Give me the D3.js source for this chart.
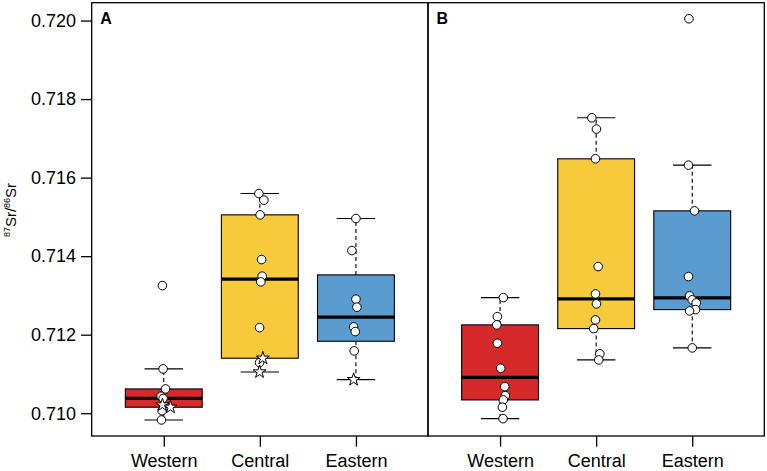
<!DOCTYPE html>
<html>
<head>
<meta charset="utf-8">
<script src="https://cdn.jsdelivr.net/npm/d3@7"></script>
<style>
  body { margin: 0; background: #fff; }
  svg { font-family: "Liberation Sans", Arial, sans-serif; }
</style>
</head>
<body>
<div id="wrapper"></div>
<script>
// categories and panels
const groups = ["Western", "Central", "Eastern"];
const panels = ["A", "B"];
const yTicks = [0.710, 0.712, 0.714, 0.716, 0.718, 0.720];

// panel A: circle values, star values, horizontal jitter (category units)
const aWestern = [0.713251, 0.711129, 0.710619, 0.710433, 0.710377, 0.710066, 0.709829];
const aWesternJit = [-0.014, -0.007, 0.018, -0.028, -0.007, -0.018, -0.024];
const aWesternStars = [0.710211, 0.710153];
const aWesternStarJit = [-0.014, 0.070];

const aCentral = [0.715595, 0.715427, 0.715052, 0.713913, 0.713490, 0.713345, 0.712181, 0.711289];
const aCentralJit = [-0.010, 0.042, 0.003, 0.018, 0.024, 0.010, -0.003, -0.003];
const aCentralStars = [0.711401, 0.711052];
const aCentralStarJit = [0.031, -0.003];

const aEastern = [0.714958, 0.714143, 0.712904, 0.712701, 0.712199, 0.712079, 0.711587];
const aEasternJit = [0, -0.042, 0, 0.010, -0.024, -0.007, -0.018];
const aEasternStars = [0.710856];
const aEasternStarJit = [-0.024];

// panel B
const bWestern = [0.712945, 0.712461, 0.712250, 0.711783, 0.711146, 0.710678, 0.710448, 0.710339, 0.710153, 0.709862];
const bWesternJit = [0.034, -0.028, -0.034, -0.028, 0.007, 0.049, 0.055, 0.034, 0.024, 0.031];

const bCentral = [0.717524, 0.717236, 0.716479, 0.713735, 0.713039, 0.712785, 0.712377, 0.712155, 0.711511, 0.711358];
const bCentralJit = [-0.045, 0.003, -0.007, 0.021, -0.007, 0.003, -0.007, -0.025, 0.038, 0.027];

const bEastern = [0.720046, 0.716318, 0.715154, 0.713480, 0.712989, 0.712887, 0.712810, 0.712639, 0.712606, 0.711664];
const bEasternJit = [-0.034, -0.039, 0.024, -0.039, -0.028, 0, 0.042, 0.034, -0.028, 0];

const colors = ["#d62a2a", "#f6ca3a", "#5a9bd0"];

// table built from the arrays above
const table = {
  A: [
    {circles: aWestern, cj: aWesternJit, stars: aWesternStars, sj: aWesternStarJit},
    {circles: aCentral, cj: aCentralJit, stars: aCentralStars, sj: aCentralStarJit},
    {circles: aEastern, cj: aEasternJit, stars: aEasternStars, sj: aEasternStarJit}
  ],
  B: [
    {circles: bWestern, cj: bWesternJit, stars: [], sj: []},
    {circles: bCentral, cj: bCentralJit, stars: [], sj: []},
    {circles: bEastern, cj: bEasternJit, stars: [], sj: []}
  ]
};

// R style fivenum + whiskers
function boxStats(values) {
  const x = values.slice().sort((a, b) => a - b);
  const n = x.length;
  const n4 = Math.floor((n + 3) / 2) / 2;
  const d = [1, n4, (n + 1) / 2, n + 1 - n4, n];
  const f = d.map(di => 0.5 * (x[Math.floor(di) - 1] + x[Math.ceil(di) - 1]));
  const iqr = f[3] - f[1];
  const lo = d3.min(x.filter(v => v >= f[1] - 1.5 * iqr));
  const hi = d3.max(x.filter(v => v <= f[3] + 1.5 * iqr));
  return {q1: f[1], med: f[2], q3: f[3], lo, hi};
}

const W = 767, H = 471;
const margin = {top: 2.7, bottom: 35, left: 91.7, right: 2.7};
const panelW = (W - margin.left - margin.right) / 2;

const svg = d3.select('#wrapper')
  .append('svg')
  .attr('width', W)
  .attr('height', H);

// shared y scale, R-style 4% range extension
const allVals = [];
panels.forEach(p => table[p].forEach(g => allVals.push(...g.circles, ...g.stars)));
const [ymin, ymax] = d3.extent(allVals);
const pad = (ymax - ymin) * 0.04;
const yscale = d3.scaleLinear()
  .domain([ymin - pad, ymax + pad])
  .range([H - margin.bottom, margin.top]);

const starSym = d3.symbol().type(d3.symbolStar).size(52);

panels.forEach((p, pi) => {
  const x0 = margin.left + pi * panelW;
  const xscale = d3.scaleLinear()
    .domain([0.25, 3.75])
    .range([x0, x0 + panelW]);

  const g = svg.append('g');

  // boxes
  table[p].forEach((grp, gi) => {
    const s = boxStats(grp.circles.concat(grp.stars));
    const cx = gi + 1;
    // whiskers
    g.append('line')
      .attr('x1', xscale(cx)).attr('x2', xscale(cx))
      .attr('y1', yscale(s.q3)).attr('y2', yscale(s.hi))
      .attr('stroke', '#000').attr('stroke-width', 1.1).attr('stroke-dasharray', '4,3');
    g.append('line')
      .attr('x1', xscale(cx)).attr('x2', xscale(cx))
      .attr('y1', yscale(s.q1)).attr('y2', yscale(s.lo))
      .attr('stroke', '#000').attr('stroke-width', 1.1).attr('stroke-dasharray', '4,3');
    [s.hi, s.lo].forEach(v => {
      g.append('line')
        .attr('x1', xscale(cx - 0.2)).attr('x2', xscale(cx + 0.2))
        .attr('y1', yscale(v)).attr('y2', yscale(v))
        .attr('stroke', '#000').attr('stroke-width', 1.1);
    });
    g.append('rect')
      .attr('x', xscale(cx - 0.4))
      .attr('width', xscale(cx + 0.4) - xscale(cx - 0.4))
      .attr('y', yscale(s.q3))
      .attr('height', yscale(s.q1) - yscale(s.q3))
      .attr('fill', colors[gi])
      .attr('stroke', '#000').attr('stroke-width', 1.1);
    g.append('line')
      .attr('x1', xscale(cx - 0.4)).attr('x2', xscale(cx + 0.4))
      .attr('y1', yscale(s.med)).attr('y2', yscale(s.med))
      .attr('stroke', '#000').attr('stroke-width', 3.2);
  });

  // points on top
  table[p].forEach((grp, gi) => {
    const cx = gi + 1;
    g.selectAll(null)
      .data(grp.circles.map((v, i) => ({v, j: grp.cj[i]})))
      .join('circle')
      .attr('cx', d => xscale(cx + d.j))
      .attr('cy', d => yscale(d.v))
      .attr('r', 4.3)
      .attr('fill', '#fff')
      .attr('stroke', '#000').attr('stroke-width', 1);
    g.selectAll(null)
      .data(grp.stars.map((v, i) => ({v, j: grp.sj[i]})))
      .join('path')
      .attr('d', starSym)
      .attr('transform', d => `translate(${xscale(cx + d.j)},${yscale(d.v)})`)
      .attr('fill', '#fff')
      .attr('stroke', '#000').attr('stroke-width', 1);
  });

  // frame
  g.append('rect')
    .attr('x', x0).attr('y', margin.top)
    .attr('width', panelW).attr('height', H - margin.bottom - margin.top)
    .attr('fill', 'none').attr('stroke', '#000').attr('stroke-width', 1.3);

  // x axis
  const xaxis = d3.axisBottom(xscale)
    .tickValues([1, 2, 3])
    .tickFormat((d, i) => groups[i])
    .tickSize(10.7)
    .tickPadding(8);
  const gx = g.append('g')
    .attr('transform', `translate(0,${H - margin.bottom})`)
    .call(xaxis);
  gx.select('.domain').remove();
  gx.selectAll('line').attr('stroke', '#000').attr('stroke-width', 1.3);
  gx.selectAll('text').attr('font-size', 18).attr('fill', '#000')
    .attr('font-family', '"Liberation Sans", Arial, sans-serif');

  // panel letter
  g.append('text')
    .attr('x', x0 + 8.5).attr('y', 24)
    .attr('font-size', 16).attr('font-weight', 'bold')
    .text(p);
});

// y axis
const yaxis = d3.axisLeft(yscale)
  .tickValues(yTicks)
  .tickFormat(d3.format('.3f'))
  .tickSize(10.7)
  .tickPadding(5);
const gy = svg.append('g')
  .attr('transform', `translate(${margin.left},0)`)
  .call(yaxis);
gy.select('.domain').remove();
gy.selectAll('line').attr('stroke', '#000').attr('stroke-width', 1.3);
gy.selectAll('text').attr('font-size', 18).attr('fill', '#000')
  .attr('font-family', '"Liberation Sans", Arial, sans-serif');

// y label with superscripts
const ylab = svg.append('text')
  .attr('transform', 'translate(16,210) rotate(-90)')
  .attr('text-anchor', 'middle')
  .attr('font-size', 15);
ylab.append('tspan').attr('font-size', 9).attr('dy', -6).text('87');
ylab.append('tspan').attr('dy', 6).text('Sr/');
ylab.append('tspan').attr('font-size', 9).attr('dy', -6).text('86');
ylab.append('tspan').attr('dy', 6).text('Sr');
</script>
</body>
</html>
